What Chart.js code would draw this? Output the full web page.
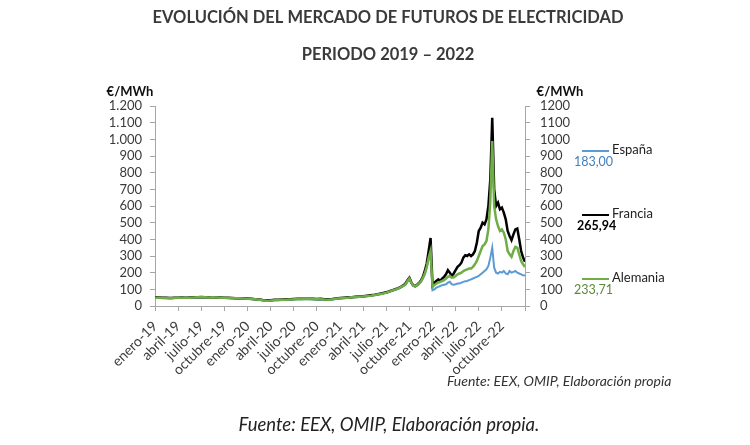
<!DOCTYPE html>
<html>
<head>
<meta charset="utf-8">
<script src="https://cdn.jsdelivr.net/npm/chart.js@4.4.0/dist/chart.umd.min.js"></script>
<style>
  html, body { margin: 0; padding: 0; background: #fff; }
  #wrap { width: 750px; height: 445px; position: relative; }
</style>
</head>
<body>
<div id="wrap"><canvas id="myChart" width="750" height="445"></canvas></div>
<script>
// meses desde enero-19 (0 = 1 ene 2019)
const meses = [
  0, 0.5, 1, 1.5, 2, 2.5, 3, 3.5, 4, 4.5, 5, 5.5, 6, 6.5, 7, 7.5, 8, 8.5, 9, 9.5,
  10, 10.5, 11, 11.5, 12, 12.5, 13, 13.5, 14, 14.5, 15, 15.5, 16, 16.5, 17, 17.5, 18, 18.5, 19, 19.5,
  20, 20.5, 21, 21.5, 22, 22.5, 23, 23.5, 24, 24.5, 25, 25.5, 26, 26.5, 27, 27.5, 28, 28.5, 29, 29.5,
  30, 30.25, 30.5, 30.75, 31, 31.25, 31.5, 31.75, 32, 32.25, 32.5, 32.75,
  33, 33.25, 33.5, 33.75, 34, 34.25, 34.5, 34.75, 35, 35.25, 35.5, 35.75,
  36, 36.25, 36.5, 36.75, 37, 37.25, 37.5, 37.75, 38, 38.25, 38.5, 38.75,
  39, 39.25, 39.5, 39.75, 40, 40.25, 40.5, 40.75, 41, 41.25, 41.5, 41.75,
  42, 42.25, 42.5, 42.75, 43, 43.25, 43.5, 43.75, 44, 44.25, 44.5, 44.75,
  45, 45.25, 45.5, 45.75, 46, 46.25, 46.5, 46.75, 47, 47.25, 47.5, 47.75, 48
];

const espana = [
  51, 50, 49, 48, 47, 48, 49, 49, 48, 49, 50, 51, 52, 51, 50, 51, 50, 49, 48, 47,
  46, 45, 45, 44, 43, 41, 39, 37, 33, 31, 32, 34, 35, 36, 37, 38, 39, 40, 40, 41,
  40, 39, 38, 39, 37, 37, 39, 42, 45, 47, 49, 51, 52, 54, 56, 59, 62, 65, 69, 73,
  80, 83, 86, 90, 94, 98, 102, 108, 114, 120, 128, 146,
  160, 138, 120, 116, 122, 132, 145, 165, 190, 230, 280, 320,
  95, 100, 110, 115, 120, 125, 128, 130, 140, 145, 130, 128,
  130, 135, 135, 140, 145, 148, 150, 155, 160, 165, 170, 175,
  180, 190, 200, 210, 220, 240, 290, 350, 230, 200, 195, 205,
  200, 210, 195, 190, 210, 200, 205, 210, 200, 195, 190, 185, 183
];

const francia = [
  52, 51, 50, 49, 48, 49, 50, 51, 50, 51, 52, 53, 54, 53, 52, 52, 51, 51, 50, 49,
  48, 47, 47, 46, 45, 43, 41, 39, 36, 34, 35, 37, 38, 39, 40, 41, 42, 43, 43, 44,
  44, 43, 42, 43, 41, 40, 42, 45, 48, 50, 52, 53, 55, 57, 59, 62, 65, 68, 72, 76,
  82, 85, 90, 94, 98, 102, 106, 112, 118, 125, 135, 155,
  170, 142, 124, 120, 128, 138, 152, 175, 210, 255, 330, 408,
  125, 140, 150, 160, 150, 165, 175, 190, 215, 200, 180, 195,
  215, 235, 245, 260, 290, 305, 300, 310, 300, 310, 330, 380,
  450, 470, 500, 490, 520, 600, 760, 1130, 700, 600, 620, 580,
  590, 560, 520, 450, 420, 395, 430, 460, 465, 400, 330, 290, 266
];

const alemania = [
  50, 49, 48, 47, 47, 48, 49, 50, 49, 50, 51, 52, 53, 52, 51, 52, 51, 50, 49, 48,
  47, 46, 46, 45, 44, 42, 40, 38, 34, 32, 33, 35, 36, 37, 38, 39, 40, 42, 41, 43,
  42, 41, 40, 41, 39, 38, 40, 43, 46, 48, 50, 52, 53, 55, 57, 60, 62, 66, 70, 74,
  80, 84, 88, 92, 96, 100, 104, 110, 116, 122, 130, 150,
  165, 140, 122, 118, 125, 135, 148, 168, 195, 235, 290, 330,
  115, 125, 135, 140, 145, 150, 155, 165, 175, 180, 170, 172,
  180, 190, 195, 200, 210, 215, 220, 225, 225, 235, 250, 270,
  300, 330, 360, 370, 390, 460, 630, 990, 600, 520, 480, 450,
  460, 440, 400, 330, 310, 295, 330, 355, 350, 310, 270, 250, 234
];

const etiquetasX = [
  'enero-19', 'abril-19', 'julio-19', 'octubre-19',
  'enero-20', 'abril-20', 'julio-20', 'octubre-20',
  'enero-21', 'abril-21', 'julio-21', 'octubre-21',
  'enero-22', 'abril-22', 'julio-22', 'octubre-22'
];

const ultimos = ['183,00', '265,94', '233,71'];

const AZUL = '#5b9bd5';
const NEGRO = '#000000';
const VERDE = '#70ad47';
const GRIS = '#a6a6a6';
const TXT = '#3a3a3a';
const FONT = 'Lato, "Open Sans", sans-serif';

function puntos(serie) {
  return serie.map((v, i) => ({ x: meses[i], y: v }));
}

function miles(v) {
  return String(v).replace(/\B(?=(\d{3})+(?!\d))/g, '.');
}

const extras = {
  id: 'extras',
  afterDraw(chart) {
    const ctx = chart.ctx;
    ctx.save();
    ctx.fillStyle = TXT;
    ctx.textBaseline = 'middle';
    ctx.textAlign = 'center';
    ctx.font = 'bold 16.5px ' + FONT;
    ctx.fillText('EVOLUCIÓN DEL MERCADO DE FUTUROS DE ELECTRICIDAD', 388, 18);
    ctx.fillText('PERIODO 2019 – 2022', 388, 55);

    ctx.fillStyle = '#111';
    ctx.font = 'bold 13px ' + FONT;
    ctx.fillText('€/MWh', 130, 92);
    ctx.fillText('€/MWh', 560, 92);

    // leyenda a la derecha
    const items = [
      { n: 'España', c: AZUL, vc: '#3f7fbf', y: 151, v: ultimos[0], vx: 574, vb: false },
      { n: 'Francia', c: NEGRO, vc: '#000', y: 215, v: ultimos[1], vx: 577, vb: true },
      { n: 'Alemania', c: VERDE, vc: '#5a8a34', y: 279, v: ultimos[2], vx: 574, vb: false }
    ];
    items.forEach(it => {
      ctx.strokeStyle = it.c;
      ctx.lineWidth = 2;
      ctx.beginPath();
      ctx.moveTo(582, it.y);
      ctx.lineTo(609, it.y);
      ctx.stroke();
      ctx.textAlign = 'left';
      ctx.fillStyle = '#222';
      ctx.font = '13px ' + FONT;
      ctx.fillText(it.n, 612, it.y - 1);
      ctx.fillStyle = it.vc;
      ctx.font = (it.vb ? 'bold ' : '') + '12.5px ' + FONT;
      ctx.fillText(it.v, it.vx, it.y + 11);
    });

    ctx.fillStyle = '#333';
    ctx.font = 'italic 14px ' + FONT;
    ctx.textAlign = 'left';
    ctx.fillText('Fuente: EEX, OMIP, Elaboración propia', 447, 381);

    ctx.fillStyle = '#222';
    ctx.font = 'italic 18.5px ' + FONT;
    ctx.textAlign = 'center';
    ctx.fillText('Fuente: EEX, OMIP, Elaboración propia.', 389, 425);
    ctx.restore();
  }
};

const ejeY = (pos, fmt, pad) => ({
  type: 'linear',
  position: pos,
  min: 0,
  max: 1200,
  border: { display: true, color: GRIS, width: 1 },
  grid: { drawOnChartArea: false, drawTicks: true, tickLength: 5, color: GRIS },
  ticks: { stepSize: 100, autoSkip: false, color: TXT, padding: pad, font: { size: 13, family: FONT }, callback: fmt },
  afterFit(scale) { scale.width = pos === 'left' ? 155 : 225; }
});

new Chart(document.getElementById('myChart'), {
  type: 'line',
  data: {
    datasets: [
      { label: 'Alemania', data: puntos(alemania), borderColor: VERDE, borderWidth: 2.5, yAxisID: 'y' },
      { label: 'Francia', data: puntos(francia), borderColor: NEGRO, borderWidth: 2.5, yAxisID: 'y' },
      { label: 'España', data: puntos(espana), borderColor: AZUL, borderWidth: 2, yAxisID: 'y' }
    ]
  },
  options: {
    responsive: false,
    animation: false,
    elements: { point: { radius: 0 }, line: { tension: 0 } },
    layout: { padding: { top: 106, left: 0, right: 0, bottom: 0 } },
    plugins: { legend: { display: false }, tooltip: { enabled: false }, title: { display: false } },
    scales: {
      x: {
        type: 'linear',
        min: 0,
        max: 48,
        border: { display: true, color: GRIS, width: 1 },
        grid: { drawOnChartArea: false, drawTicks: true, tickLength: 5, color: GRIS },
        ticks: {
          stepSize: 3,
          autoSkip: false,
          maxRotation: 45,
          minRotation: 45,
          padding: 7,
          color: TXT,
          font: { size: 14, family: FONT },
          callback: v => etiquetasX[v / 3] || ''
        },
        afterFit(scale) { scale.height = 139; }
      },
      y: ejeY('left', v => miles(v), 8),
      y2: ejeY('right', v => String(v), 10)
    }
  },
  plugins: [extras]
});
</script>
</body>
</html>
